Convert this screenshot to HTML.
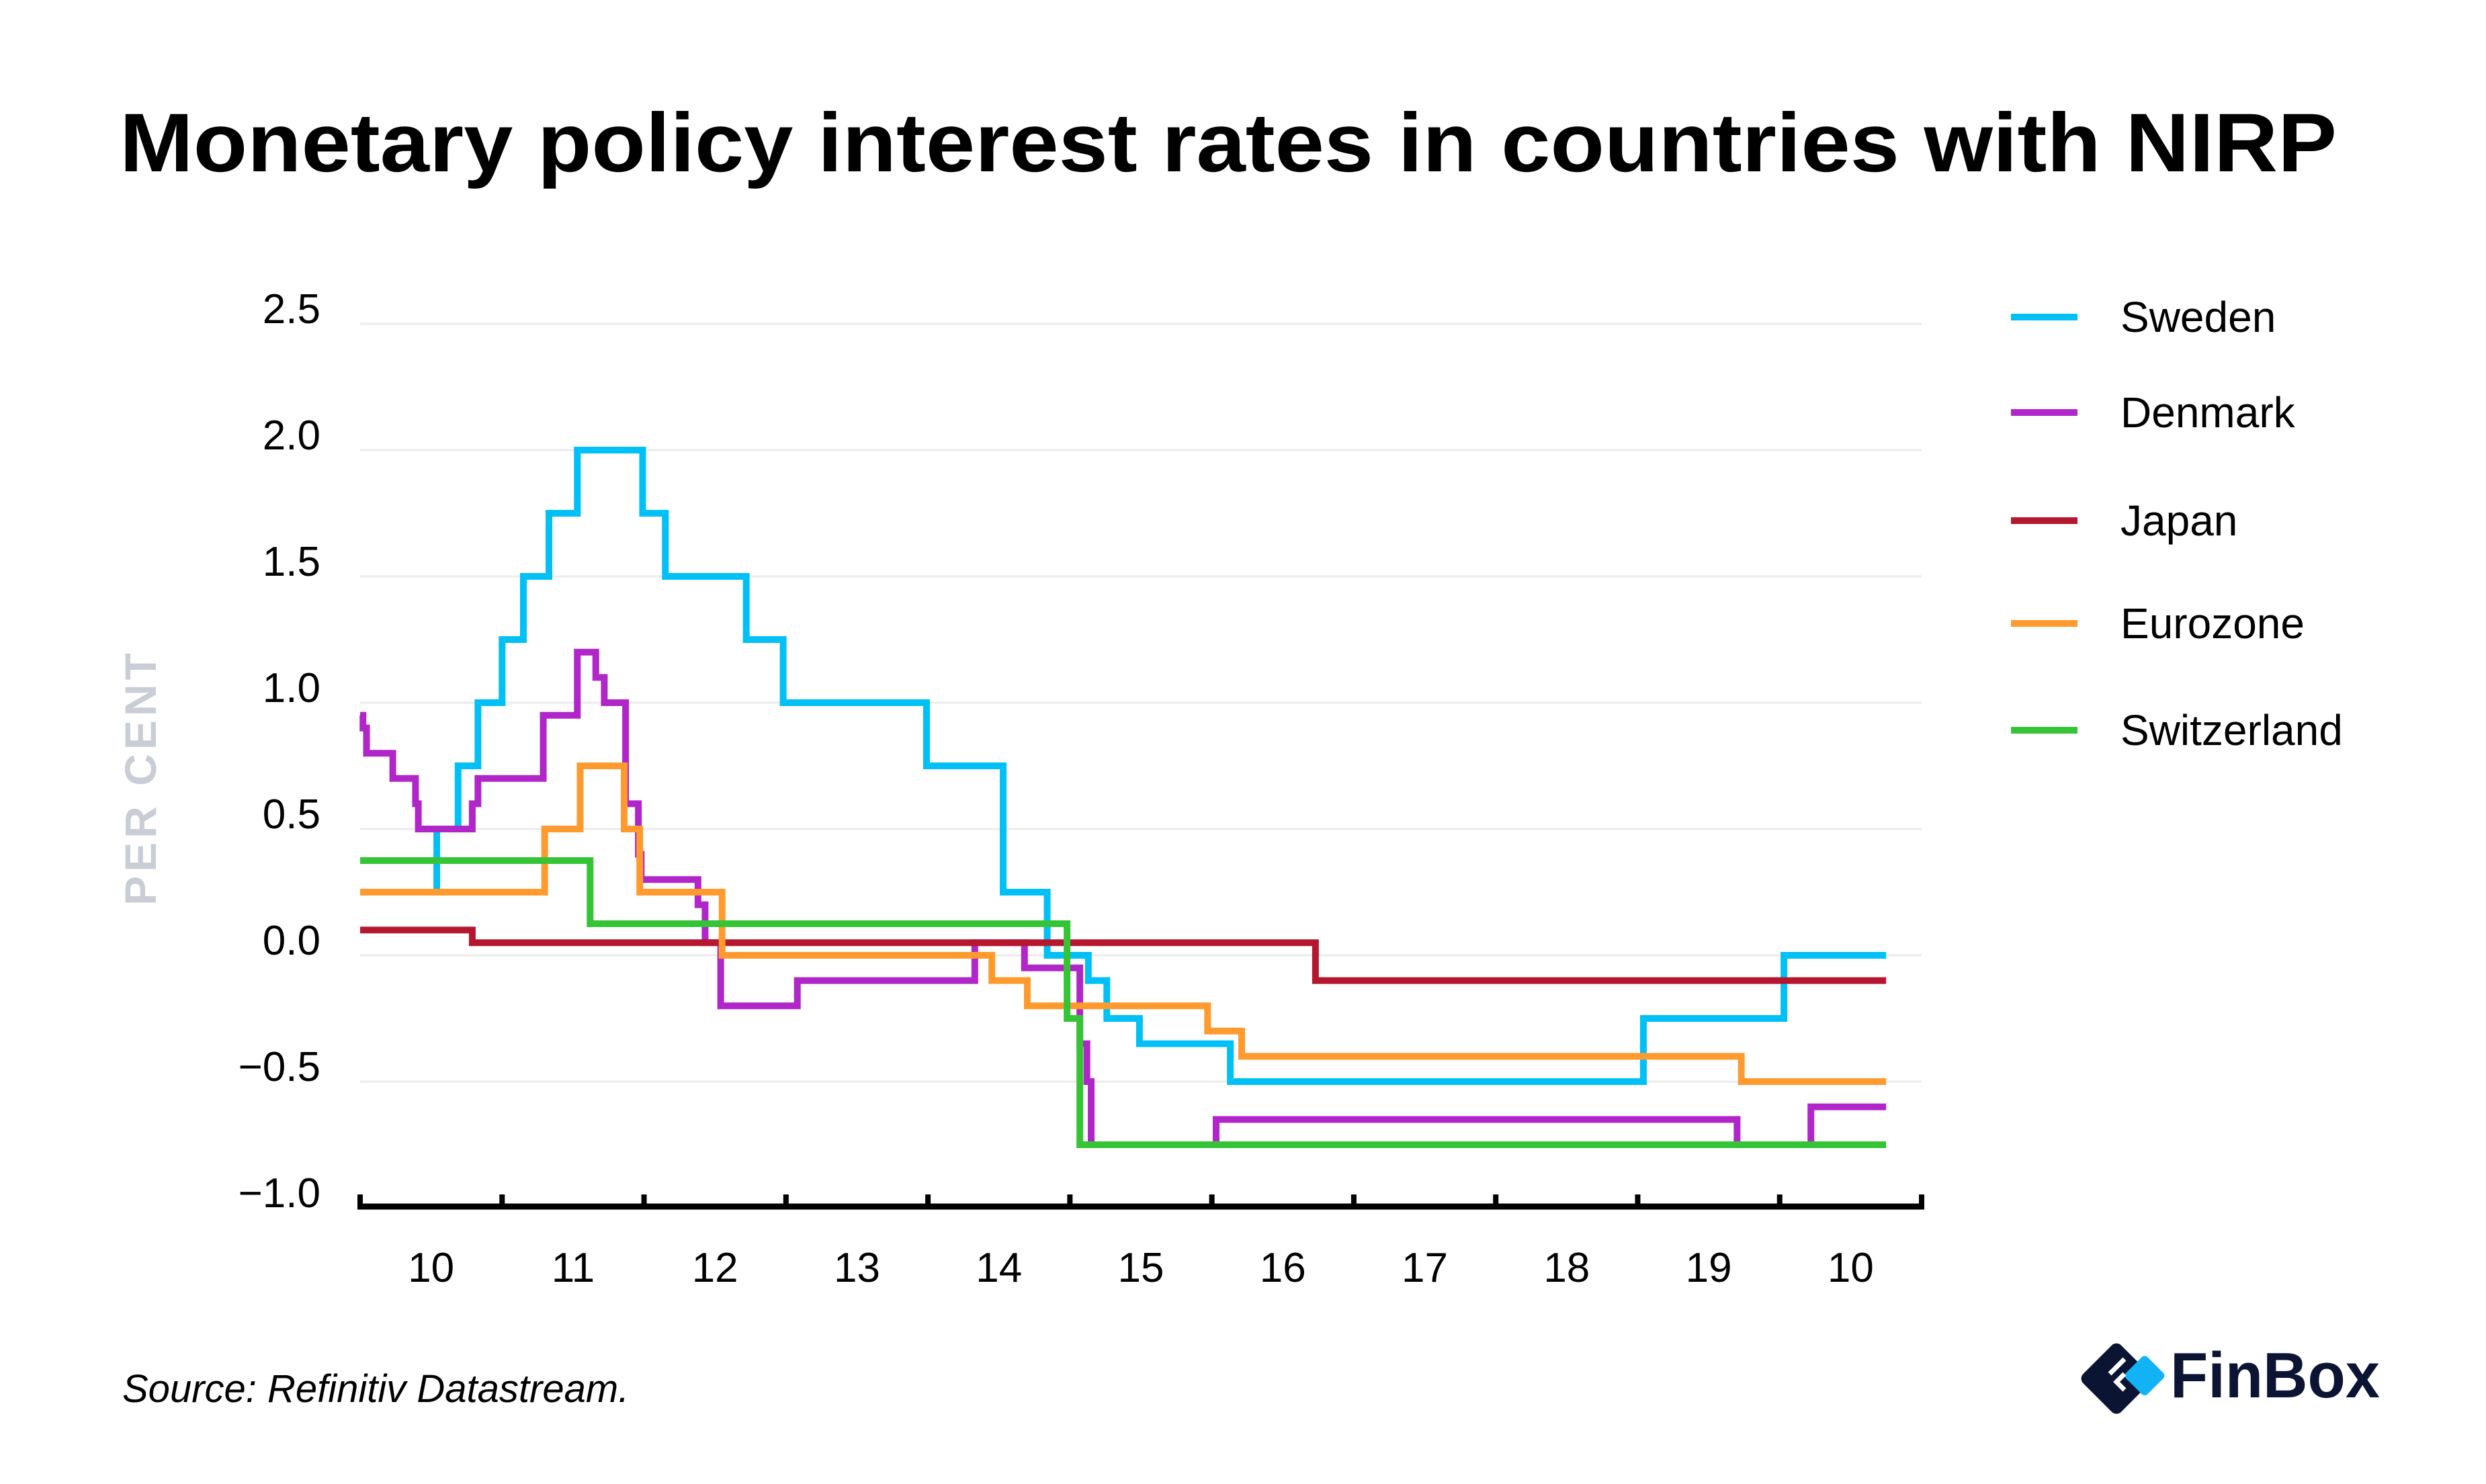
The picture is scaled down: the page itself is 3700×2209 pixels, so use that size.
<!DOCTYPE html>
<html><head><meta charset="utf-8"><style>
html,body{margin:0;padding:0;background:#fff;}
svg{display:block;font-family:"Liberation Sans",sans-serif;}
</style></head><body>
<svg id="chart" width="3700" height="2209" viewBox="0 0 3700 2209" xmlns="http://www.w3.org/2000/svg">
<text x="1828" y="255" text-anchor="middle" font-size="124" font-weight="bold" fill="#000" textLength="3300" lengthAdjust="spacingAndGlyphs">Monetary policy interest rates in countries with NIRP</text>
<text transform="translate(232,1157) rotate(-90)" text-anchor="middle" font-size="66" font-weight="bold" fill="#c8cdd6" letter-spacing="6">PER CENT</text>
<g id="grid"></g><g id="series"></g><g id="axes"></g><g id="legend"></g>
<text x="182" y="2087" font-size="58" font-style="italic" fill="#000">Source: Refinitiv Datastream.</text>
<g>
<rect x="3115" y="2010" width="80" height="80" rx="10" transform="rotate(45 3150 2045)" fill="#0b1533"/>
<rect x="3170" y="2025" width="45" height="45" rx="6" transform="rotate(45 3192 2047)" fill="#12b3f5"/>
<path d="M3140 2045 l22 -22 M3162 2045 l-12 12 l12 12" stroke="#fff" stroke-width="7" fill="none"/>
<text x="3230" y="2080" font-size="96" font-weight="bold" fill="#0b1533" textLength="312" lengthAdjust="spacingAndGlyphs">FinBox</text>
</g>
</svg>
<script>
const yTicks = [2.5, 2.0, 1.5, 1.0, 0.5, 0.0, -0.5, -1.0];
const yTickLabels = ["2.5", "2.0", "1.5", "1.0", "0.5", "0.0", "−0.5", "−1.0"];
const xYears = [2010, 2011, 2012, 2013, 2014, 2015, 2016, 2017, 2018, 2019, 2020];
const xTickLabels = ["10", "11", "12", "13", "14", "15", "16", "17", "18", "19", "10"];
const seriesNames = ["Sweden", "Denmark", "Japan", "Eurozone", "Switzerland"];
const seriesColors = ["#00c0f5", "#b026c8", "#b5172f", "#ff9a2e", "#35c435"];
const endDate = 2020.75;
const swedenDates = [2010.0, 2010.54, 2010.69, 2010.83, 2011.0, 2011.15, 2011.33, 2011.53, 2011.99, 2012.15, 2012.72, 2012.98, 2013.99, 2014.53, 2014.84, 2015.13, 2015.26, 2015.49, 2016.13, 2019.04, 2020.03];
const swedenValues = [0.25, 0.5, 0.75, 1.0, 1.25, 1.5, 1.75, 2.0, 1.75, 1.5, 1.25, 1.0, 0.75, 0.25, 0.0, -0.1, -0.25, -0.35, -0.5, -0.25, 0.0];
const denmarkDates = [2010.0, 2010.02, 2010.045, 2010.23, 2010.39, 2010.41, 2010.79, 2010.83, 2011.29, 2011.53, 2011.66, 2011.72, 2011.87, 2011.96, 2011.98, 2012.38, 2012.43, 2012.54, 2013.08, 2014.33, 2014.68, 2015.07, 2015.12, 2015.15, 2016.03, 2019.70, 2020.22];
const denmarkValues = [0.95, 0.9, 0.8, 0.7, 0.6, 0.5, 0.6, 0.7, 0.95, 1.2, 1.1, 1.0, 0.6, 0.4, 0.3, 0.2, 0.05, -0.2, -0.1, 0.05, -0.05, -0.35, -0.5, -0.75, -0.65, -0.75, -0.6];
const japanDates = [2010.0, 2010.79, 2016.73];
const japanValues = [0.1, 0.05, -0.1];
const euroDates = [2010.0, 2011.30, 2011.55, 2011.86, 2011.97, 2012.55, 2014.45, 2014.70, 2015.97, 2016.21, 2019.73];
const euroValues = [0.25, 0.5, 0.75, 0.5, 0.25, 0.0, -0.1, -0.2, -0.3, -0.4, -0.5];
const swissDates = [2010.0, 2011.62, 2014.98, 2015.07];
const swissValues = [0.375, 0.125, -0.25, -0.75];
const seriesDates = [swedenDates, denmarkDates, japanDates, euroDates, swissDates];
const seriesValues = [swedenValues, denmarkValues, japanValues, euroValues, swissValues];

const NS = "http://www.w3.org/2000/svg";
const X0 = 536, X1 = 2860, Y0 = 1422, PER = 376;
function xScale(t){ return X0 + (t - 2010) * (X1 - X0) / 11; }
function yScale(v){ return Y0 - v * PER; }
function mk(tag, attrs, parent){ const e = document.createElementNS(NS, tag); for (const k in attrs) e.setAttribute(k, attrs[k]); parent.appendChild(e); return e; }

const grid = document.getElementById('grid');
yTicks.forEach((v, i) => {
  if (v > -1) {
    const l = mk('line', {x1: X0, x2: X1, y1: yScale(v), y2: yScale(v), stroke: '#ebebeb', 'stroke-width': 3}, grid);
    
    
  }
  const t = mk('text', {x: 477, y: yScale(v) - 1, 'text-anchor': 'end', 'font-size': 62, fill: '#000'}, grid);
  t.textContent = yTickLabels[i];
  
  
});

const axes = document.getElementById('axes');
const ax = mk('line', {x1: X0 - 4, x2: X1 + 4, y1: yScale(-1) - 2, y2: yScale(-1) - 2, stroke: '#000', 'stroke-width': 9}, axes);


for (let k = 0; k <= 11; k++) {
  const x = xScale(2010 + k);
  const tk = mk('line', {x1: x, x2: x, y1: yScale(-1) + 2, y2: yScale(-1) - 20, stroke: '#000', 'stroke-width': 8}, axes);
  
  
}
xYears.forEach((yr, i) => {
  const t = mk('text', {x: xScale(yr + 0.5), y: 1908, 'text-anchor': 'middle', 'font-size': 62, fill: '#000'}, axes);
  t.textContent = xTickLabels[i];
  
  
});

const sg = document.getElementById('series');
seriesNames.forEach((name, s) => {
  const d = seriesDates[s], v = seriesValues[s];
  let p = 'M' + xScale(d[0]) + ' ' + yScale(v[0]);
  for (let i = 1; i < d.length; i++) {
    p += ' H' + xScale(d[i]) + ' V' + yScale(v[i]);
  }
  p += ' H' + xScale(endDate);
  const path = mk('path', {d: p, fill: 'none', stroke: seriesColors[s], 'stroke-width': 10, 'stroke-linejoin': 'miter'}, sg);
  
  
});

const lg = document.getElementById('legend');
const legendY = [472, 614, 775, 928, 1087];
seriesNames.forEach((name, s) => {
  const g = mk('g', {}, lg);
  
  
  mk('line', {x1: 2993, x2: 3092, y1: legendY[s], y2: legendY[s], stroke: seriesColors[s], 'stroke-width': 10}, g);
  const t = mk('text', {x: 3156, y: legendY[s] + 22, 'font-size': 64, fill: '#000'}, g);
  t.textContent = name;
});
</script>
</body></html>
